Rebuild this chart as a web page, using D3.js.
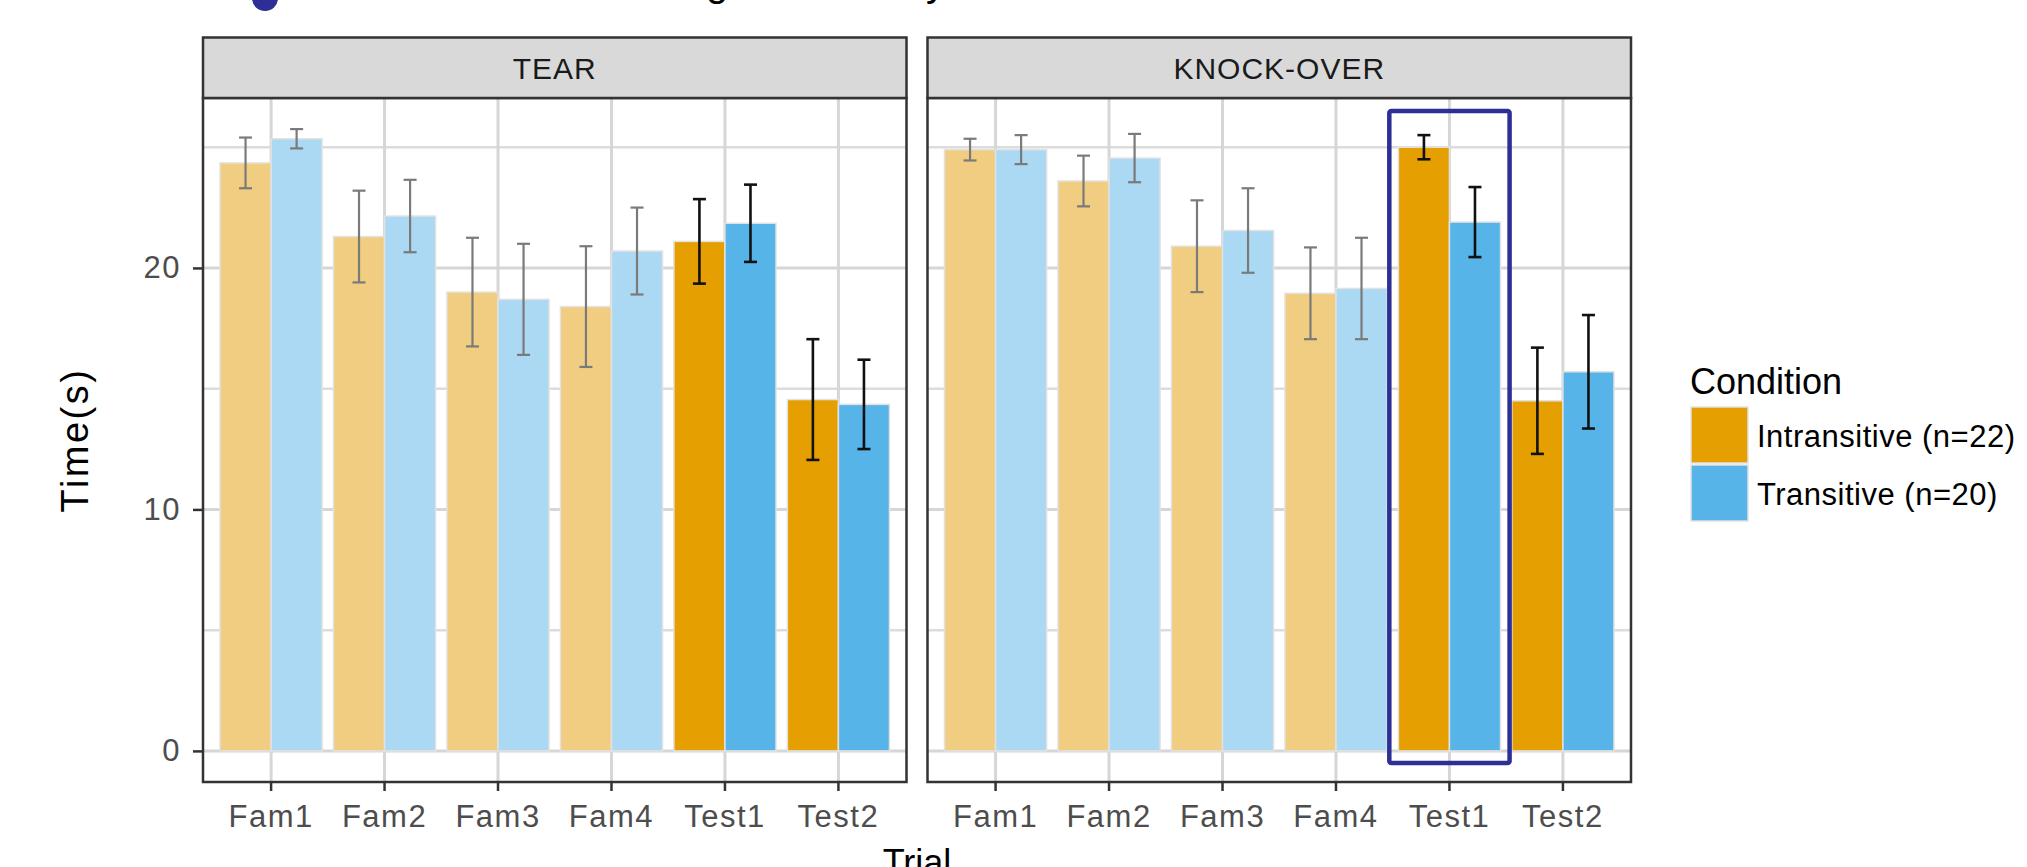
<!DOCTYPE html>
<html><head><meta charset="utf-8">
<script src="https://cdn.jsdelivr.net/npm/d3@7"></script>
<style>
body{margin:0;background:#fff}
svg{display:block}
text{font-family:"Liberation Sans",Arial,sans-serif}
</style>
</head><body>
<svg id="chart" width="2027" height="867"></svg>
<script>
// ---- data: mean looking time (s) and standard error, per trial ----
const events = ["TEAR", "KNOCK-OVER"];
const trials = ["Fam1", "Fam2", "Fam3", "Fam4", "Test1", "Test2"];
const conditions = ["Intransitive (n=22)", "Transitive (n=20)"];
const testTrials = ["Test1", "Test2"];

const tearIntransitive    = [24.35, 21.30, 19.00, 18.40, 21.10, 14.55];
const tearIntransitiveSE  = [1.05, 1.90, 2.25, 2.50, 1.75, 2.50];
const tearTransitive      = [25.35, 22.15, 18.70, 20.70, 21.85, 14.35];
const tearTransitiveSE    = [0.40, 1.50, 2.30, 1.80, 1.60, 1.85];
const knockIntransitive   = [24.90, 23.60, 20.90, 18.95, 25.00, 14.50];
const knockIntransitiveSE = [0.45, 1.05, 1.90, 1.90, 0.50, 2.20];
const knockTransitive     = [24.90, 24.55, 21.55, 19.15, 21.90, 15.70];
const knockTransitiveSE   = [0.60, 1.00, 1.75, 2.10, 1.45, 2.35];

const yTicks = [0, 10, 20];
const yMinorTicks = [5, 15, 25];
const highlight = { event: "KNOCK-OVER", trial: "Test1" };

// long-format rows for drawing
const seriesTable = {
  "TEAR": [[tearIntransitive, tearIntransitiveSE], [tearTransitive, tearTransitiveSE]],
  "KNOCK-OVER": [[knockIntransitive, knockIntransitiveSE], [knockTransitive, knockTransitiveSE]]
};
const rows = [];
events.forEach(ev => {
  conditions.forEach((cond, ci) => {
    const [means, ses] = seriesTable[ev][ci];
    trials.forEach((t, ti) => rows.push({ event: ev, trial: t, condition: cond, mean: means[ti], se: ses[ti] }));
  });
});

// ---- styling ----
const fullFill  = { [conditions[0]]: "#E69F00", [conditions[1]]: "#56B4E9" };
const lightFill = { [conditions[0]]: "#F0CD80", [conditions[1]]: "#ABD8F2" };
const isTest = t => testTrials.includes(t);

const svg = d3.select("#chart");
const plotL = 203, plotR = 1631, gap = 21;
const stripTop = 37.5, panelTop = 98, panelBot = 782;
const pw = (plotR - plotL - gap) / 2;

// y scale with 5% expansion around [0, max upper error]
const maxV = d3.max(rows, d => d.mean + d.se);
const y = d3.scaleLinear().domain([-0.05 * maxV, 1.05 * maxV]).range([panelBot, panelTop]);

events.forEach((ev, i) => {
  const x0 = plotL + i * (pw + gap);
  const x = d3.scaleBand().domain(trials).range([x0, x0 + pw]).paddingInner(0.1).paddingOuter(0.15);
  const xc = d3.scaleBand().domain(conditions).range([0, x.bandwidth()]);
  const cx = t => x(t) + x.bandwidth() / 2;
  const g = svg.append("g");

  // panel background + grid
  g.append("rect").attr("x", x0).attr("y", panelTop).attr("width", pw).attr("height", panelBot - panelTop).attr("fill", "#fff");
  g.selectAll(".gminor").data(yMinorTicks).join("line")
    .attr("x1", x0).attr("x2", x0 + pw).attr("y1", d => y(d)).attr("y2", d => y(d))
    .attr("stroke", "#DCDCDC").attr("stroke-width", 2.5);
  g.selectAll(".gmajor").data(yTicks).join("line")
    .attr("x1", x0).attr("x2", x0 + pw).attr("y1", d => y(d)).attr("y2", d => y(d))
    .attr("stroke", "#D6D6D6").attr("stroke-width", 3);
  g.selectAll(".gx").data(trials).join("line")
    .attr("x1", cx).attr("x2", cx).attr("y1", panelTop).attr("y2", panelBot)
    .attr("stroke", "#D6D6D6").attr("stroke-width", 3);

  const data = rows.filter(r => r.event === ev);

  // bars
  g.selectAll(".bar").data(data).join("rect")
    .attr("x", d => x(d.trial) + xc(d.condition))
    .attr("width", xc.bandwidth())
    .attr("y", d => y(d.mean))
    .attr("height", d => y(0) - y(d.mean))
    .attr("fill", d => isTest(d.trial) ? fullFill[d.condition] : lightFill[d.condition])
    .attr("stroke", "#E2E2E2").attr("stroke-width", 1.5);

  // error bars
  const cap = 6.5;
  const eb = g.selectAll(".eb").data(data).join("g")
    .attr("stroke", d => isTest(d.trial) ? "#111" : "#7A7A7A")
    .attr("stroke-width", d => isTest(d.trial) ? 2.6 : 2.2);
  const ex = d => x(d.trial) + xc(d.condition) + xc.bandwidth() / 2;
  eb.append("line").attr("x1", ex).attr("x2", ex).attr("y1", d => y(d.mean + d.se)).attr("y2", d => y(d.mean - d.se));
  eb.append("line").attr("x1", d => ex(d) - cap).attr("x2", d => ex(d) + cap).attr("y1", d => y(d.mean + d.se)).attr("y2", d => y(d.mean + d.se));
  eb.append("line").attr("x1", d => ex(d) - cap).attr("x2", d => ex(d) + cap).attr("y1", d => y(d.mean - d.se)).attr("y2", d => y(d.mean - d.se));

  // panel border
  g.append("rect").attr("x", x0).attr("y", panelTop).attr("width", pw).attr("height", panelBot - panelTop)
    .attr("fill", "none").attr("stroke", "#333").attr("stroke-width", 2.5);

  // facet strip
  g.append("rect").attr("x", x0).attr("y", stripTop).attr("width", pw).attr("height", panelTop - stripTop)
    .attr("fill", "#D9D9D9").attr("stroke", "#333").attr("stroke-width", 2.5);
  g.append("text").attr("x", x0 + pw / 2).attr("y", (stripTop + panelTop) / 2 + 11)
    .attr("text-anchor", "middle").attr("font-size", 30).attr("letter-spacing", 1)
    .attr("fill", "#1A1A1A").text(ev);

  // x axis
  const xAxis = g.append("g").attr("transform", `translate(0,${panelBot})`)
    .call(d3.axisBottom(x).tickSize(9).tickPadding(14));
  xAxis.select(".domain").remove();
  xAxis.selectAll(".tick line").attr("stroke", "#333").attr("stroke-width", 2.5);
  xAxis.selectAll(".tick text").attr("font-size", 31).attr("letter-spacing", 1.5).attr("fill", "#4D4D4D");

  // y axis on first panel only
  if (i === 0) {
    const yAxis = g.append("g").attr("transform", `translate(${x0},0)`)
      .call(d3.axisLeft(y).tickValues(yTicks).tickSize(10).tickPadding(12));
    yAxis.select(".domain").remove();
    yAxis.selectAll(".tick line").attr("stroke", "#333").attr("stroke-width", 2.5);
    yAxis.selectAll(".tick text").attr("font-size", 31).attr("letter-spacing", 1.5).attr("fill", "#4D4D4D");
  }

  // outline around the highlighted trial
  if (ev === highlight.event) {
    const hx = cx(highlight.trial), half = x.step() * 0.53;
    g.append("rect").attr("x", hx - half).attr("y", y(26.5)).attr("width", 2 * half).attr("height", y(-0.5) - y(26.5))
      .attr("fill", "none").attr("stroke", "#2E2F96").attr("stroke-width", 4.5).attr("rx", 2);
  }
});

// axis titles
svg.append("text").attr("transform", `translate(88,${(panelTop + panelBot) / 2}) rotate(-90)`)
  .attr("text-anchor", "middle").attr("font-size", 38).attr("letter-spacing", 2.5).attr("fill", "#000").text("Time(s)");
svg.append("text").attr("x", (plotL + plotR) / 2).attr("y", 875)
  .attr("text-anchor", "middle").attr("font-size", 36).attr("fill", "#000").text("Trial");

// legend
const lg = svg.append("g").attr("transform", "translate(1690,0)");
lg.append("text").attr("x", 0).attr("y", 394).attr("font-size", 36).attr("fill", "#000").text("Condition");
conditions.forEach((c, k) => {
  const ky = 407 + k * 58;
  lg.append("rect").attr("x", 1).attr("y", ky).attr("width", 57).attr("height", 56)
    .attr("fill", fullFill[c]).attr("stroke", "#E2E2E2").attr("stroke-width", 1.5);
  lg.append("text").attr("x", 67).attr("y", ky + 40).attr("font-size", 31).attr("letter-spacing", 0.5)
    .attr("fill", "#000").text(c);
});

// caption line running off the top edge of the figure
svg.append("circle").attr("cx", 265).attr("cy", -2).attr("r", 13).attr("fill", "#2E2F96");
svg.append("text").attr("x", 706).attr("y", -4).attr("font-size", 40).attr("fill", "#000").text("g");
svg.append("text").attr("x", 926).attr("y", -4).attr("font-size", 40).attr("fill", "#000").text("y");
</script>
</body></html>
